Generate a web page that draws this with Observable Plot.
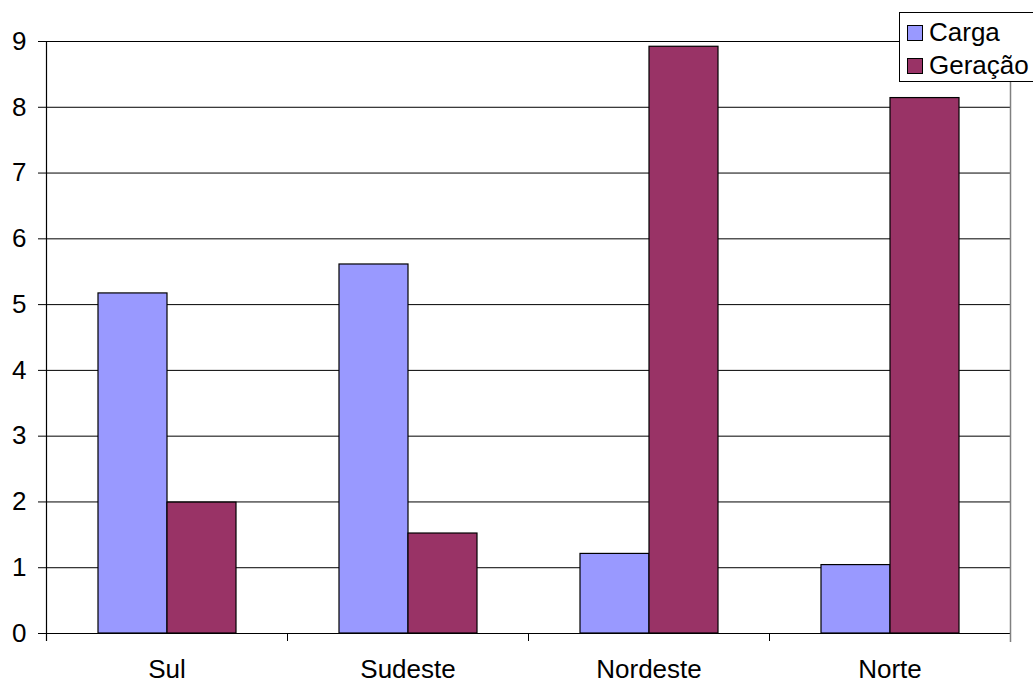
<!DOCTYPE html>
<html><head><meta charset="utf-8">
<script src="https://cdn.jsdelivr.net/npm/d3@7"></script>
<script src="https://cdn.jsdelivr.net/npm/@observablehq/plot@0.6"></script>
<style>
html,body{margin:0;padding:0;background:#fff;}
#wrap{position:relative;width:1033px;height:684px;overflow:hidden;font-family:"Liberation Sans",Arial,sans-serif;}
#legend{position:absolute;left:899px;top:12px;width:150px;height:70px;border:1px solid #000;background:#fff;box-sizing:border-box;padding-top:3px;}
#legend .item{height:33px;line-height:33px;font-size:26px;color:#000;white-space:nowrap;display:flex;align-items:center;}
#legend .sw{display:inline-block;width:16px;height:16px;border:1px solid #000;box-sizing:border-box;margin-left:7px;margin-right:6px;}
</style>
</head><body>
<div id="wrap"><div id="chart"></div><div id="legend"></div></div>
<script>
const regions = ["Sul", "Sudeste", "Nordeste", "Norte"];
const series = ["Carga", "Geração"];
const carga = [5.17, 5.61, 1.21, 1.04];
const geracao = [1.99, 1.52, 8.92, 8.14];
const yTicks = [0, 1, 2, 3, 4, 5, 6, 7, 8, 9];
const colors = ["#9999FF", "#993366"];

const data = regions.flatMap((r, i) => [
  {region: r, series: series[0], value: carga[i]},
  {region: r, series: series[1], value: geracao[i]}
]);

const W = 1033, H = 684, ML = 46, MR = 23, MT = 41, MB = 51;
const facetW = (W - ML - MR) / regions.length;

const chart = Plot.plot({
  width: W, height: H,
  marginLeft: ML, marginRight: MR, marginTop: MT, marginBottom: MB,
  style: {fontFamily: "'Liberation Sans', Arial, sans-serif", fontSize: "26px", color: "#000", background: "#fff", overflow: "visible"},
  fx: {domain: regions, padding: 0, label: null, axis: null},
  x: {domain: series, paddingInner: 0, paddingOuter: 0.746, axis: null},
  y: {domain: [0, 9], label: null},
  color: {domain: series, range: colors},
  marks: [
    Plot.gridY({ticks: yTicks, stroke: "#000", strokeOpacity: 1, strokeWidth: 1}),
    Plot.barY(data, {fx: "region", x: "series", y: "value", fill: "series", stroke: "#000", strokeWidth: 1.2}),
    Plot.ruleY([0], {stroke: "#000", strokeWidth: 1.2}),
    Plot.ruleX(regions, {fx: d => d, x: null, y1: 0, y2: 0, insetBottom: -8, dx: -facetW / 2, stroke: "#000"}),
    Plot.ruleX([regions[0]], {fx: d => d, x: null, y1: 9, y2: 0, insetBottom: -8, dx: -facetW / 2, stroke: "#000", strokeWidth: 1.2}),
    Plot.ruleX([regions[regions.length - 1]], {fx: d => d, x: null, y1: 9, y2: 0, insetBottom: -9, dx: facetW / 2, stroke: "#808080", strokeWidth: 1.5}),
    Plot.axisY({ticks: yTicks, tickSize: 8, tickPadding: 12, label: null, tickFormat: d => String(d)}),
    Plot.axisFx({anchor: "bottom", tickSize: 0, tickPadding: 26, label: null})
  ]
});
document.getElementById("chart").appendChild(chart);

const legend = document.getElementById("legend");
series.forEach((s, i) => {
  const item = document.createElement("div");
  item.className = "item";
  const sw = document.createElement("span");
  sw.className = "sw";
  sw.style.background = colors[i];
  item.appendChild(sw);
  item.appendChild(document.createTextNode(s));
  legend.appendChild(item);
});
</script>
</body></html>
